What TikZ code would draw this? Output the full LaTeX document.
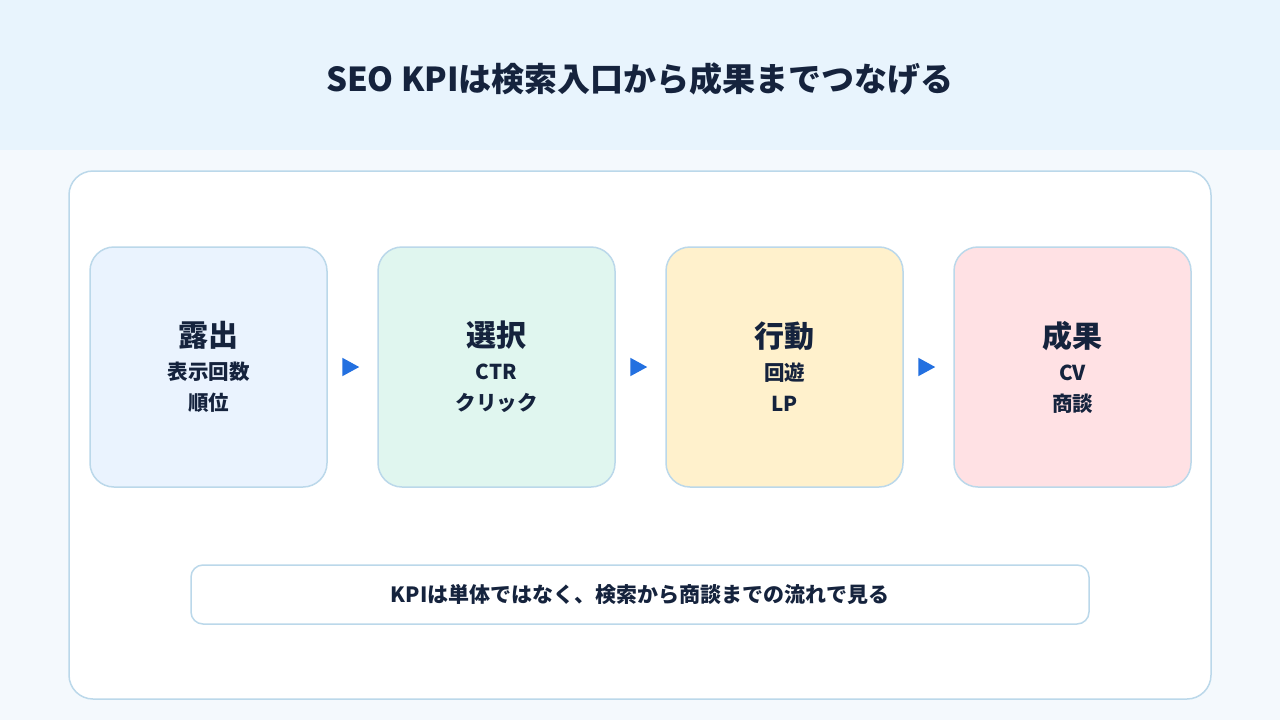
\documentclass[tikz,border=0pt]{standalone}
\usepackage{fontspec}
\setmainfont{Noto Sans CJK JP}
\usepackage{xcolor}
\usetikzlibrary{arrows.meta,positioning}
\definecolor{cabecera}{HTML}{E8F4FD}
\definecolor{fondo}{HTML}{F4F9FD}
\definecolor{borde}{HTML}{BBD8EA}
\definecolor{tinta}{HTML}{15233D}
\definecolor{azul}{HTML}{EAF3FE}
\definecolor{verde}{HTML}{E0F6EF}
\definecolor{amarillo}{HTML}{FFF1CC}
\definecolor{rosa}{HTML}{FFE1E4}
\definecolor{flechaazul}{HTML}{2370E0}
\tikzset{
  marco/.style={fill=white,draw=borde,line width=1.5pt,rounded corners=24pt},
  caja/.style={draw=borde,line width=1.5pt,rounded corners=24pt,minimum width=237pt,minimum height=240pt,
    align=center,text=tinta,font=\fontsize{20.5}{31}\selectfont\bfseries},
  flecha/.style={-{Triangle[length=17pt,width=18pt]},line width=2pt,flechaazul,shorten <=17pt,shorten >=18pt},
  nota/.style={fill=white,draw=borde,line width=1.5pt,rounded corners=12pt,minimum width=898pt,minimum height=59pt,
    text=tinta,font=\fontsize{21}{24}\selectfont\bfseries}
}
\newcommand{\cabeza}[1]{{\fontsize{30}{34}\selectfont #1}\\[2pt]}

\begin{document}
\begin{tikzpicture}[x=1pt,y=-1pt]
\fill[cabecera] (0,0) rectangle (1280,150);
\fill[fondo] (0,150) rectangle (1280,720);
\useasboundingbox (0,0) rectangle (1280,720);
\node[text=tinta,font=\fontsize{33}{38}\selectfont\bfseries] (T) at (640,79) {SEO KPIは検索入口から成果までつなげる};
\draw[marco] (69,171) rectangle (1211,699);
\node[caja,fill=azul] (E) at (208.5,367) {\cabeza{露出}表示回数\\順位};
\node[caja,fill=verde] (S) at (496.5,367) {\cabeza{選択}CTR\\クリック};
\node[caja,fill=amarillo] (A) at (784.5,367) {\cabeza{行動}回遊\\LP};
\node[caja,fill=rosa] (R) at (1072.5,367) {\cabeza{成果}CV\\商談};
\draw[flecha] (E) -- (S);
\draw[flecha] (S) -- (A);
\draw[flecha] (A) -- (R);
\node[nota] (N) at (640,594.5) {KPIは単体ではなく、検索から商談までの流れで見る};
\end{tikzpicture}
\end{document}
